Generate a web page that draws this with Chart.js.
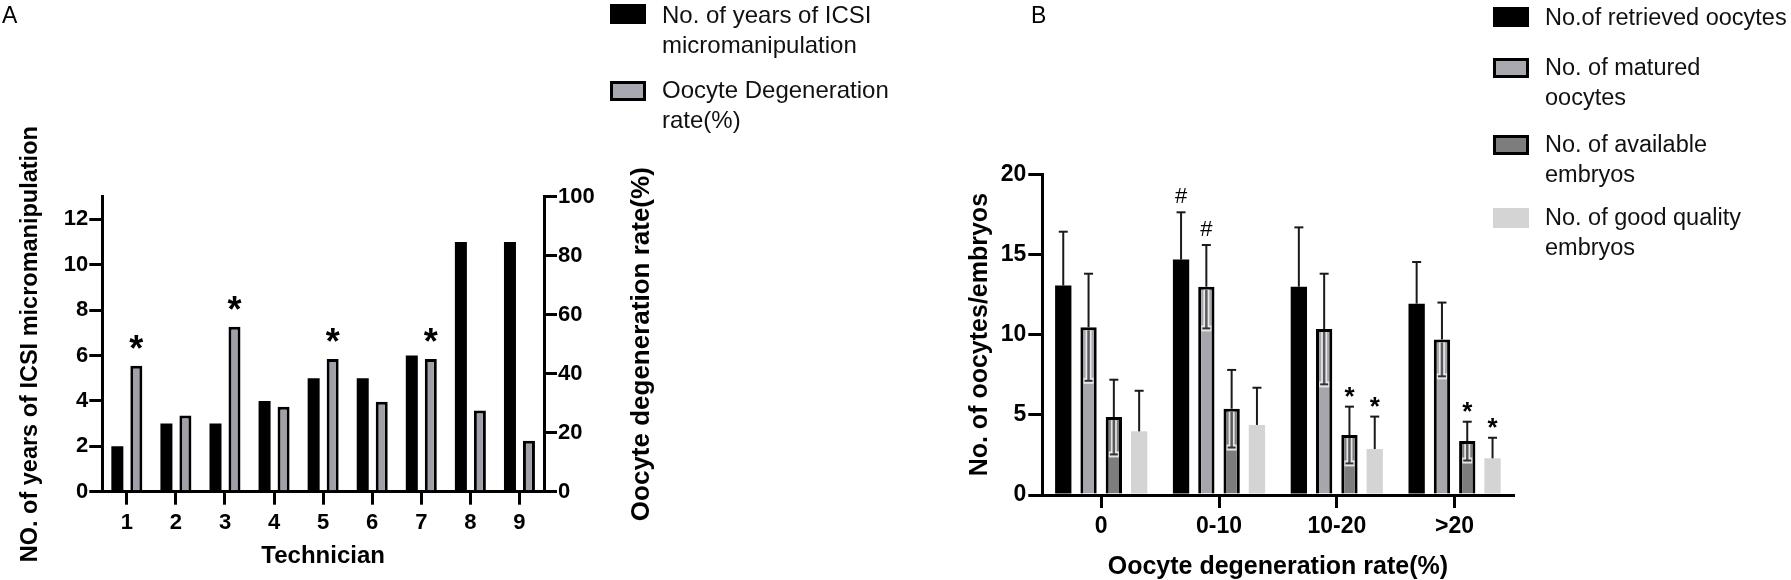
<!DOCTYPE html>
<html><head><meta charset="utf-8">
<script src="https://cdn.jsdelivr.net/npm/chart.js@4.4.1/dist/chart.umd.min.js"></script>
<style>
html,body{margin:0;padding:0;background:#fff;}
body{width:1791px;height:580px;position:relative;overflow:hidden;font-family:'Liberation Sans',Arial,sans-serif;}
.box{position:absolute;top:0;height:580px;}
.sw{position:absolute;width:36px;height:20px;box-sizing:border-box;}
.lt{position:absolute;font-size:23px;color:#111;white-space:nowrap;}
.pl{position:absolute;font-size:23px;line-height:23px;color:#000;}
</style></head><body>
<div class="box" style="left:0;width:700px"><canvas id="chartA"></canvas></div>
<div class="box" style="left:940px;width:851px"><canvas id="chartB"></canvas></div>
<div class="pl" style="left:2px;top:4px">A</div>
<div class="pl" style="left:1031px;top:4px">B</div>

<div class="sw" style="left:610px;top:4px;background:#000"></div>
<div class="lt" style="left:662px;top:0px;line-height:30px;font-size:24px">No. of years of ICSI<br>micromanipulation</div>
<div class="sw" style="left:610px;top:81px;background:#a8a8b0;border:3px solid #000"></div>
<div class="lt" style="left:662px;top:75px;line-height:30px;font-size:24px">Oocyte Degeneration<br>rate(%)</div>

<div class="sw" style="left:1493px;top:7px;background:#000"></div>
<div class="lt" style="left:1545px;top:2px;line-height:30px;font-size:23.5px">No.of retrieved oocytes</div>
<div class="sw" style="left:1493px;top:58px;background:#a8a8ae;border:3px solid #000"></div>
<div class="lt" style="left:1545px;top:53px;line-height:29.5px;font-size:23.5px">No. of matured<br>oocytes</div>
<div class="sw" style="left:1493px;top:135px;background:#7d7d7d;border:3px solid #000"></div>
<div class="lt" style="left:1545px;top:130px;line-height:29.5px;font-size:23.5px">No. of available<br>embryos</div>
<div class="sw" style="left:1493px;top:208px;background:#d4d4d4"></div>
<div class="lt" style="left:1545px;top:203px;line-height:29.5px;font-size:23.5px">No. of good quality<br>embryos</div>

<script>
// ---------- Panel A data ----------
const technicians = ['1','2','3','4','5','6','7','8','9'];
const yearsICSI = [2, 3, 3, 4, 5, 5, 6, 11, 11];
const degenerationRate = [42.7, 25.8, 55.9, 28.8, 45.0, 30.5, 45.0, 27.5, 17.3];
const degenerationMarks = ['*', '', '*', '', '*', '', '*', '', ''];

// ---------- Panel B data ----------
const degenGroups = ['0', '0-10', '10-20', '>20'];
const retrieved = [13.06, 14.68, 12.99, 11.93];
const retrievedSD = [3.36, 2.95, 3.70, 2.60];
const retrievedMarks = ['', '#', '', ''];
const matured = [10.46, 12.99, 10.35, 9.70];
const maturedSD = [3.34, 2.60, 3.45, 2.30];
const maturedMarks = ['', '#', '', ''];
const available = [4.86, 5.38, 3.74, 3.36];
const availableSD = [2.33, 2.42, 1.77, 1.21];
const availableMarks = ['', '', '*', '*'];
const goodQuality = [3.97, 4.37, 2.87, 2.29];
const goodQualitySD = [2.53, 2.32, 2.02, 1.28];
const goodQualityMarks = ['', '', '*', '*'];

const FF = "'Liberation Sans', Arial, sans-serif";
Chart.defaults.font.family = FF;
Chart.defaults.color = '#000';

const axisGrid = {drawOnChartArea:false, drawTicks:true, tickLength:13, lineWidth:3, tickWidth:3, color:'#000'};
const axisBorder = {display:true, width:3, color:'#000'};

// ---------- Chart A ----------
const marksPluginA = {
  id:'marksA',
  afterDraw(chart){
    const {ctx, chartArea} = chart;
    const meta = chart.getDatasetMeta(1);
    ctx.save();
    ctx.fillStyle = '#000';
    ctx.font = "bold 36px " + FF;
    ctx.textAlign = 'center';
    ctx.textBaseline = 'alphabetic';
    meta.data.forEach((el, i) => {
      if (degenerationMarks[i]) ctx.fillText(degenerationMarks[i], el.x, el.y - 5);
    });
    ctx.translate(642, (chartArea.top + chartArea.bottom) / 2);
    ctx.rotate(-Math.PI / 2);
    ctx.font = "bold 26px " + FF;
    ctx.textBaseline = 'middle';
    ctx.fillText('Oocyte degeneration rate(%)', 0, 0);
    ctx.restore();
  }
};

new Chart(document.getElementById('chartA'), {
  type: 'bar',
  data: {
    labels: technicians,
    datasets: [
      {label:'No. of years of ICSI micromanipulation', data:yearsICSI, yAxisID:'y',
       backgroundColor:'#000', borderWidth:0, categoryPercentage:0.774, barPercentage:0.632},
      {label:'Oocyte Degeneration rate(%)', data:degenerationRate, yAxisID:'y2',
       backgroundColor:'#a0a0a8', borderColor:'#000', borderWidth:3, categoryPercentage:0.774, barPercentage:0.632}
    ]
  },
  options: {
    responsive:true, maintainAspectRatio:false, animation:false,
    layout:{padding:{top:196.7, left:0, right:0, bottom:0}},
    plugins:{legend:{display:false}, tooltip:{enabled:false}},
    scales:{
      x:{
        grid:Object.assign({offset:false}, axisGrid), border:axisBorder,
        ticks:{font:{size:22, weight:'bold'}, color:'#000', padding:5, maxRotation:0, autoSkip:false},
        title:{display:true, text:'Technician', font:{size:24, weight:'bold'}, color:'#000', padding:{top:0, bottom:9}},
        afterFit(s){ s.height = 88.3; }
      },
      y:{
        position:'left', min:0, max:13,
        ticks:{stepSize:2, includeBounds:false, font:{size:22, weight:'bold'}, color:'#000', padding:1},
        grid:axisGrid, border:axisBorder,
        title:{display:true, text:'NO. of years of ICSI micromanipulation', font:{size:23.5, weight:'bold'}, color:'#000', padding:{top:16, bottom:0}},
        afterFit(s){ s.width = 102.3; }
      },
      y2:{
        position:'right', min:0, max:100,
        ticks:{stepSize:20, font:{size:22, weight:'bold'}, color:'#000', padding:1},
        grid:axisGrid, border:axisBorder,
        afterFit(s){ s.width = 156; }
      }
    }
  },
  plugins:[marksPluginA]
});

// ---------- Chart B ----------
const seriesB = [
  {values:retrieved, sd:retrievedSD, marks:retrievedMarks, inner:false},
  {values:matured, sd:maturedSD, marks:maturedMarks, inner:true},
  {values:available, sd:availableSD, marks:availableMarks, inner:true},
  {values:goodQuality, sd:goodQualitySD, marks:goodQualityMarks, inner:false}
];

function seg(ctx, x1, y1, x2, y2){ ctx.beginPath(); ctx.moveTo(x1, y1); ctx.lineTo(x2, y2); ctx.stroke(); }

const errPluginB = {
  id:'errB',
  afterDatasetsDraw(chart){
    const ctx = chart.ctx, ys = chart.scales.y;
    ctx.save();
    seriesB.forEach((s, di) => {
      const meta = chart.getDatasetMeta(di);
      meta.data.forEach((el, j) => {
        const v = s.values[j], sd = s.sd[j];
        const x = el.x, yTop = el.y;
        const yHi = ys.getPixelForValue(v + sd), yLo = ys.getPixelForValue(v - sd);
        if (s.inner) {
          ctx.lineCap = 'butt';
          ctx.strokeStyle = 'rgba(235,235,238,0.95)'; ctx.lineWidth = 6;
          seg(ctx, x, yTop + 3, x, yLo);
          seg(ctx, x - 5, yLo, x + 5, yLo);
          ctx.strokeStyle = '#5a5a5e'; ctx.lineWidth = 2.5;
          seg(ctx, x, yTop + 3, x, yLo);
          ctx.strokeStyle = '#333'; ctx.lineWidth = 2;
          seg(ctx, x - 4, yLo, x + 4, yLo);
        }
        ctx.strokeStyle = '#1a1a1a'; ctx.lineWidth = 2;
        seg(ctx, x, yTop, x, yHi);
        seg(ctx, x - 4.5, yHi, x + 4.5, yHi);
        const m = s.marks[j];
        if (m) {
          ctx.fillStyle = '#000'; ctx.textAlign = 'center'; ctx.textBaseline = 'alphabetic';
          if (m === '#') { ctx.font = "22px " + FF; ctx.fillText(m, x, yHi - 9); }
          else { ctx.font = "bold 26px " + FF; ctx.fillText(m, x, yHi - 2); }
        }
      });
    });
    ctx.restore();
  }
};

const barOptsB = {categoryPercentage:0.859, barPercentage:0.645};
new Chart(document.getElementById('chartB'), {
  type:'bar',
  data:{
    labels:degenGroups,
    datasets:[
      Object.assign({label:'No.of retrieved oocytes', data:retrieved, backgroundColor:'#000', borderWidth:0}, barOptsB),
      Object.assign({label:'No. of matured oocytes', data:matured, backgroundColor:'#a6a6ac', borderColor:'#000', borderWidth:3}, barOptsB),
      Object.assign({label:'No. of available embryos', data:available, backgroundColor:'#7d7d7d', borderColor:'#000', borderWidth:3}, barOptsB),
      Object.assign({label:'No. of good quality embryos', data:goodQuality, backgroundColor:'#d4d4d4', borderWidth:0}, barOptsB)
    ]
  },
  options:{
    responsive:true, maintainAspectRatio:false, animation:false,
    layout:{padding:{top:174.3, left:0, right:277.5, bottom:0}},
    plugins:{legend:{display:false}, tooltip:{enabled:false}},
    scales:{
      x:{
        grid:Object.assign({offset:false}, axisGrid), border:axisBorder,
        ticks:{font:{size:23, weight:'bold'}, color:'#000', padding:5, maxRotation:0, autoSkip:false},
        title:{display:true, text:'Oocyte degeneration rate(%)', font:{size:25, weight:'bold'}, color:'#000', padding:{top:0, bottom:-2}},
        afterFit(s){ s.height = 85; }
      },
      y:{
        position:'left', min:0, max:20,
        ticks:{stepSize:5, font:{size:23, weight:'bold'}, color:'#000', padding:2},
        grid:Object.assign({}, axisGrid, {tickLength:14}), border:axisBorder,
        title:{display:true, text:'No. of oocytes/embryos', font:{size:25, weight:'bold'}, color:'#000', padding:{top:25, bottom:0}},
        afterFit(s){ s.width = 102.3; }
      }
    }
  },
  plugins:[errPluginB]
});
</script>
</body></html>
